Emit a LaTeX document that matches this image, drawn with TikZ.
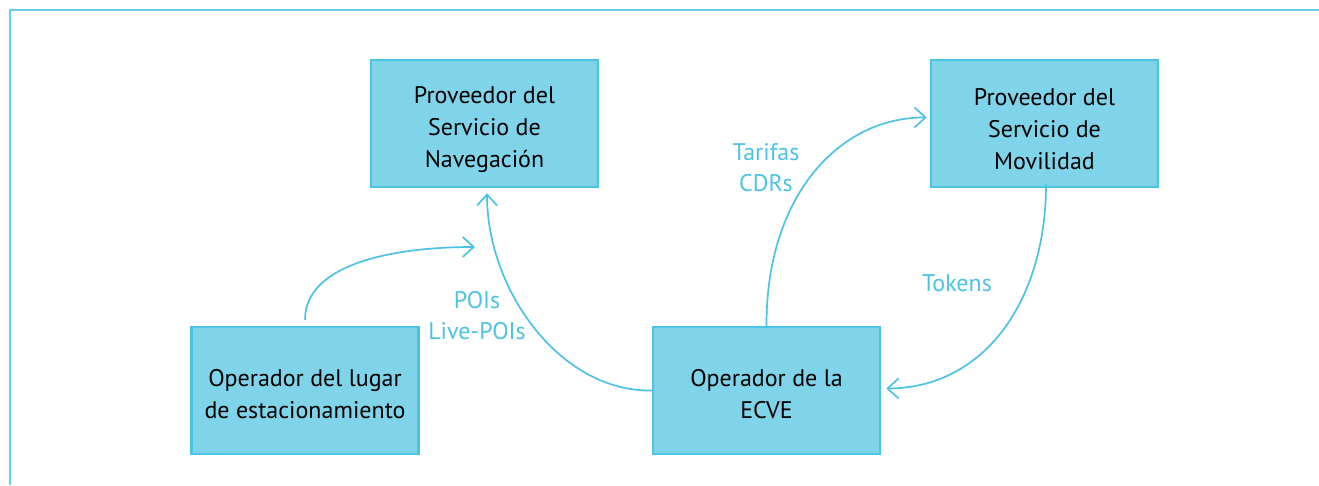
\documentclass[tikz,border=0pt]{standalone}
\usepackage{fontspec}
\setmainfont{PT Sans}
\usetikzlibrary{arrows.meta}
\definecolor{boxfill}{HTML}{7FD4EA}
\definecolor{boxline}{HTML}{4BC3E3}
\definecolor{lblcol}{HTML}{4CC2E4}
\definecolor{framecol}{HTML}{66CFEA}
\begin{document}
\begin{tikzpicture}[x=1pt,y=-1pt,
  actor/.style={draw=boxline, line width=2.5pt, fill=boxfill, minimum width=227pt, minimum height=127pt, inner sep=0pt},
  actortext/.style={inner sep=0pt, align=center, font=\fontsize{24}{32}\selectfont},
  flow/.style={draw=lblcol, line width=1.7pt, -{Straight Barb[length=11pt,width=20pt,line width=1.7pt]}},
  lbl/.style={text=lblcol, align=center, font=\fontsize{24}{31}\selectfont}]
\useasboundingbox (0,0) rectangle (1319,485);
\coordinate (ftl) at (10,10);
\coordinate (ftr) at (1319,10);
\coordinate (fbl) at (10,485);
\draw[framecol, line width=1.5pt] (fbl) -- (ftl) -- (ftr);
\node[actor] (nav) at (484.5,123.5) {};
\node[actor] (mov) at (1044.5,123.5) {};
\node[actor] (park) at (305,390.5) {};
\node[actor] (ecve) at (766.5,390.5) {};
\node[actortext] (navt) at ([yshift=-6pt]nav.center) {Proveedor del\\Servicio de\\Navegación};
\node[actortext] (movt) at ([yshift=-6pt]mov.center) {Proveedor del\\Servicio de\\Movilidad};
\node[actortext] (parkt) at ([yshift=-4pt]park.center) {Operador del lugar\\de estacionamiento};
\node[actortext] (ecvet) at ([yshift=-4pt]ecve.center) {Operador de la\\ECVE};
\coordinate (pt) at (475,247);
\draw[flow] ([yshift=6pt]park.north) .. controls (305,265) and (390,247) .. (pt);
\draw[flow] (ecve.west) .. controls (560,392) and (487,290) .. ([xshift=2.5pt,yshift=-5pt]nav.south);
\draw[flow] (ecve.north) .. controls (766,195) and (840,117) .. ([xshift=-3pt,yshift=6pt]mov.west);
\draw[flow] ([xshift=1.5pt,yshift=4pt]mov.south) .. controls (1046,300) and (985,388) .. ([xshift=5pt,yshift=2pt]ecve.east);
\node[lbl] (l1) at (477,316) {POIs\\Live-POIs};
\node[lbl] (l2) at (766,168) {Tarifas\\CDRs};
\node[lbl] (l3) at (957,283) {Tokens};
\end{tikzpicture}
\end{document}
